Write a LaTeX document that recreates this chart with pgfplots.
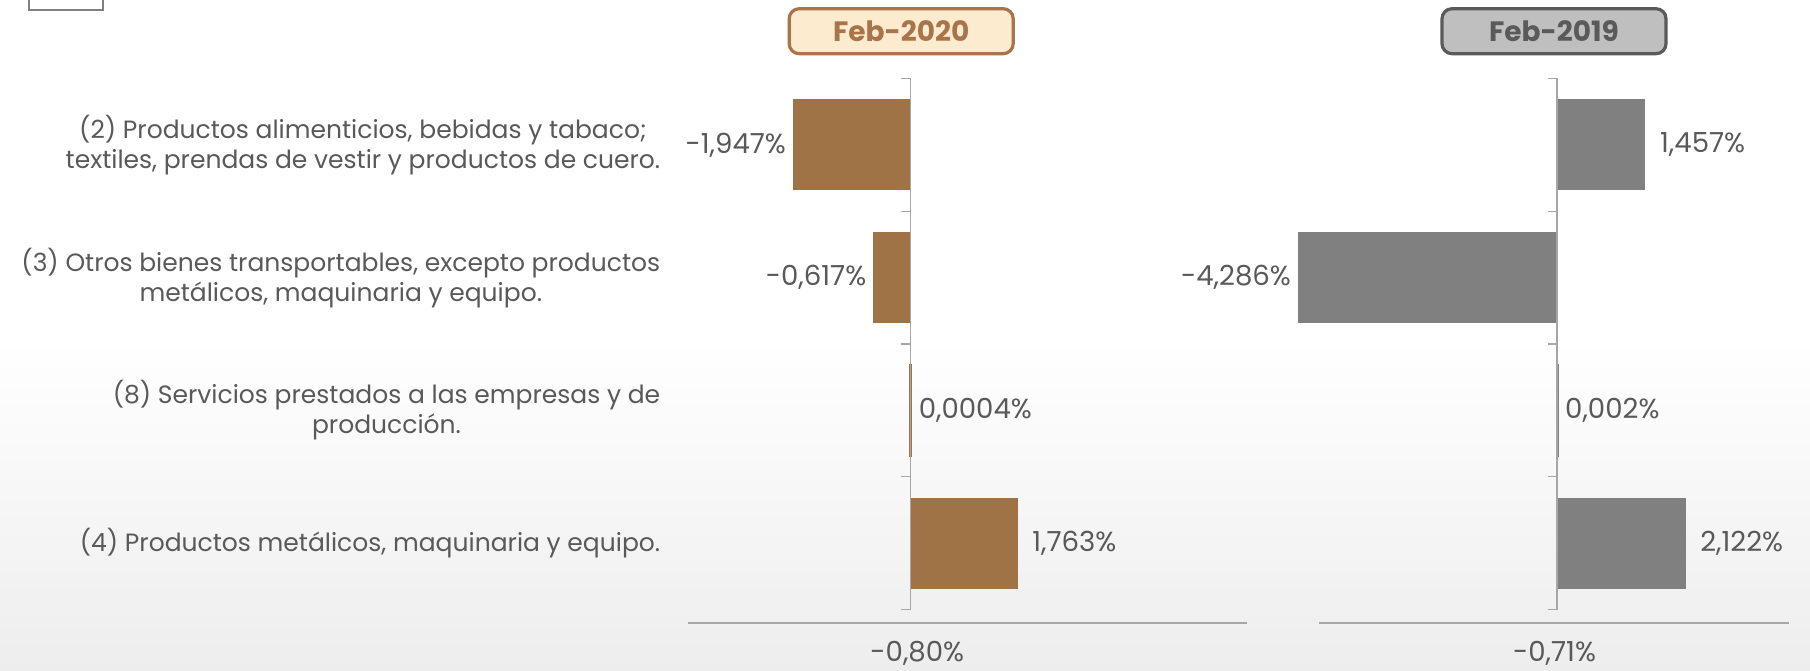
\documentclass[border=0pt]{standalone}
\usepackage{pgfplots}
\pgfplotsset{compat=1.18}
\usepackage{fontspec}
\setmainfont{Poppins}

\definecolor{txt}{HTML}{595959}
\definecolor{brownbar}{HTML}{A07346}
\definecolor{graybar}{HTML}{808080}
\definecolor{axisgray}{HTML}{A6A6A6}
\definecolor{cream}{HTML}{FDEBD0}
\definecolor{brownline}{HTML}{A8744A}
\definecolor{boxgray}{HTML}{BFBFBF}
\definecolor{boxline}{HTML}{5A5A5A}

\newcommand{\lblfont}{\fontsize{12.5}{15}\selectfont}
\newcommand{\numfont}{\fontsize{13.8}{16}\selectfont}

\pgfplotsset{
  panel/.style={
    xbar, bar width=45pt, bar shift=0pt, x=30.2pt, y=66.4pt, y dir=reverse,
    ymin=0.5, ymax=4.6, hide axis, clip=false,
    anchor=north west,
    nodes near coords, point meta=explicit symbolic,
    every node near coord/.append style={font=\numfont, text=txt},
  },
  neg/.style={every node near coord/.append style={anchor=east}},
  pos/.style={every node near coord/.append style={anchor=west}},
  posfar/.style={every node near coord/.append style={anchor=west, xshift=4pt}},
}

\begin{document}
\begin{tikzpicture}
\fill[white] (0,0) rectangle (905pt,-335pt);
\shade[top color=white, bottom color=black!7] (0,-170pt) rectangle (905pt,-335pt);
\useasboundingbox (0,0) rectangle (905pt,-335pt);

% bit of a cropped frame, top left
\draw[gray, line width=0.6pt] (14.5pt,0) -- (14.5pt,-5pt) -- (51.5pt,-5pt) -- (51.5pt,0);

% Feb-2020
\begin{axis}[panel, at={(344.2pt,-39.2pt)}, xmin=-3.68, xmax=5.56]
\addplot[neg, fill=brownbar, draw=brownbar, line width=0.5pt] coordinates {
  (-1.947,1) [-1,947\%]
  (-0.617,2) [-0,617\%]
};
\addplot[pos, fill=brownbar, draw=brownbar, line width=1.4pt] coordinates {
  (0.0004,3) [0,0004\%]
};
\addplot[posfar, fill=brownbar, draw=brownbar, line width=0.5pt] coordinates {
  (1.763,4)  [1,763\%]
};
\draw[axisgray, line width=0.6pt] (axis cs:0,0.5) -- (axis cs:0,4.5);
\pgfplotsinvokeforeach{0.5,1.5,2.5,3.5,4.5}{
  \draw[axisgray, line width=0.6pt] (axis cs:0,#1) -- ([xshift=-4.6pt]axis cs:0,#1);
}
\draw[axisgray, line width=1pt] (axis cs:-3.68,4.6) -- (axis cs:5.56,4.6);
\node[text=txt, font=\numfont] at (axis cs:0.11,4.83) {-0,80\%};

\node[anchor=east, align=center, text=txt, font=\lblfont] at (axis cs:-4.03,1)
  {(2) Productos alimenticios, bebidas y tabaco;\\textiles, prendas de vestir y productos de cuero.};
\node[anchor=east, align=center, text=txt, font=\lblfont] at (axis cs:-4.03,2)
  {(3) Otros bienes transportables, excepto productos\\metálicos, maquinaria y equipo.};
\node[anchor=east, align=center, text=txt, font=\lblfont] at (axis cs:-4.03,3)
  {(8) Servicios prestados a las empresas y de\\producción.};
\node[anchor=east, align=center, text=txt, font=\lblfont] at (axis cs:-4.03,4)
  {(4) Productos metálicos, maquinaria y equipo.};
\end{axis}

% Feb-2019
\begin{axis}[panel, at={(659.5pt,-39.2pt)}, xmin=-3.94, xmax=3.84]
\addplot[posfar, fill=graybar, draw=graybar, line width=0.5pt] coordinates {
  (1.457,1)  [1,457\%]
};
\addplot[neg, fill=graybar, draw=graybar, line width=0.5pt] coordinates {
  (-4.286,2) [-4,286\%]
};
\addplot[pos, fill=graybar, draw=graybar, line width=1.4pt] coordinates {
  (0.002,3)  [0,002\%]
};
\addplot[posfar, fill=graybar, draw=graybar, line width=0.5pt] coordinates {
  (2.122,4)  [2,122\%]
};
\draw[axisgray, line width=0.6pt] (axis cs:0,0.5) -- (axis cs:0,4.5);
\pgfplotsinvokeforeach{0.5,1.5,2.5,3.5,4.5}{
  \draw[axisgray, line width=0.6pt] (axis cs:0,#1) -- ([xshift=-4.6pt]axis cs:0,#1);
}
\draw[axisgray, line width=1pt] (axis cs:-3.94,4.6) -- (axis cs:3.84,4.6);
\node[text=txt, font=\numfont] at (axis cs:-0.04,4.83) {-0,71\%};
\end{axis}

\node[draw=brownline, fill=cream, line width=1.6pt, rounded corners=5pt,
      minimum width=112pt, minimum height=22.5pt, text=brownline,
      font=\bfseries\fontsize{14}{16}\selectfont] at (450.6pt,-15.6pt) {Feb-2020};
\node[draw=boxline, fill=boxgray, line width=1.6pt, rounded corners=5pt,
      minimum width=112pt, minimum height=22.5pt, text=boxline,
      font=\bfseries\fontsize{14}{16}\selectfont] at (777pt,-15.6pt) {Feb-2019};
\end{tikzpicture}
\end{document}
